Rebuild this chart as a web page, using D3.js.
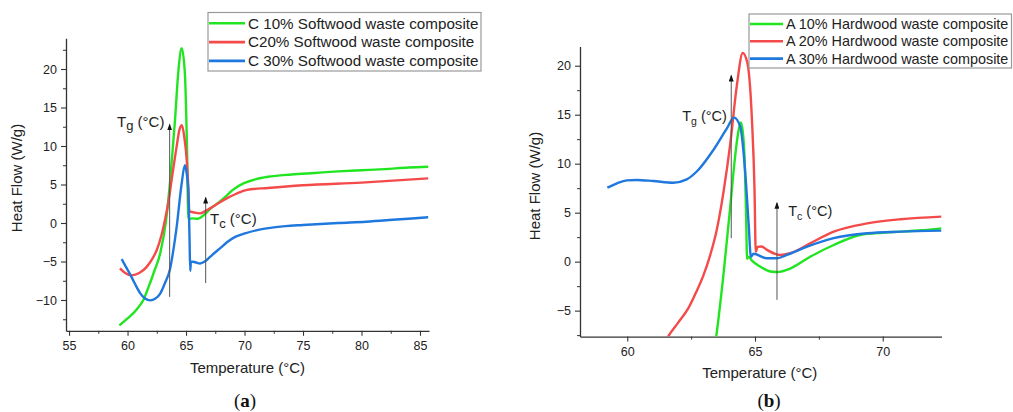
<!DOCTYPE html>
<html>
<head>
<meta charset="utf-8">
<script src="https://cdn.jsdelivr.net/npm/d3@7"></script>
<style>
  body { margin: 0; background: #fff; }
  svg { display: block; font-family: "Liberation Sans", Arial, sans-serif; }
  .axis text { fill: #222; }
  .axis path, .axis line { stroke: #333; }
</style>
</head>
<body>
<div id="chart"></div>
<script>
// (a) softwood composites: [temperature °C, heat flow W/g]
const c10 = [
  [59.3, -13.3], [60.0, -12.4], [60.8, -11.2], [61.35, -10.0], [61.8, -8.3],
  [62.3, -6.2], [62.8, -3.9], [63.3, 0.4], [63.65, 5.6], [64.05, 13.2],
  [64.35, 19.8], [64.63, 22.7], [64.9, 19.5], [65.08, 10], [65.2, 0.5],
  [65.5, 0.6], [66.0, 0.55], [66.5, 1.0], [67.05, 1.8], [67.9, 2.8],
  [68.5, 3.6], [69.0, 4.3], [70.0, 5.2], [71.0, 5.7], [72.0, 6.0],
  [74.0, 6.3], [76.0, 6.5], [78.0, 6.7], [80.0, 6.85], [82.0, 7.0],
  [84.0, 7.2], [85.7, 7.3]
];
const c20 = [
  [59.35, -5.9], [59.8, -6.5], [60.36, -6.8], [61.0, -6.5], [61.64, -5.7],
  [62.1, -4.7], [62.5, -3.5], [62.9, -1.6], [63.2, 0.4], [63.5, 2.8],
  [63.77, 5.6], [64.2, 9.95], [64.45, 12.2], [64.65, 12.7], [64.85, 11.2],
  [65.06, 8.2], [65.2, 4.5], [65.28, 1.5], [65.6, 1.4], [66.2, 1.25],
  [66.6, 1.5], [67.05, 1.9], [67.8, 2.6], [68.48, 3.2], [69.3, 3.8],
  [70.2, 4.3], [72.0, 4.55], [75.0, 4.9], [80.0, 5.25], [85.7, 5.8]
];
const c30 = [
  [59.5, -4.7], [59.9, -5.8], [60.2, -6.6], [60.6, -7.8], [61.07, -9.1],
  [61.5, -9.8], [61.95, -10.05], [62.35, -9.85], [62.78, -9.2], [63.2, -7.8],
  [63.63, -6.0], [63.95, -3.2], [64.2, -0.5], [64.6, 4.8], [64.9, 7.5],
  [65.05, 6.5], [65.2, 4.0], [65.3, -2.0], [65.36, -6.2], [65.42, -5.0],
  [65.8, -5.1], [66.2, -5.25], [66.6, -5.0], [67.05, -4.4], [67.5, -3.8],
  [67.9, -3.3], [68.5, -2.5], [69.2, -1.8], [70.04, -1.35], [71.0, -0.95],
  [71.9, -0.7], [73.5, -0.4], [75.0, -0.26], [78.0, 0.0], [80.4, 0.17],
  [83.0, 0.45], [85.7, 0.74]
];

// (b) hardwood composites
const a10 = [
  [63.4, -9.2], [63.5, -7.3], [63.77, -1.2], [64.03, 5.6], [64.22, 10.7],
  [64.32, 12.8], [64.44, 14.2], [64.52, 13.3], [64.6, 10.0], [64.65, 5.0],
  [64.69, 0.3], [64.75, 0.5], [64.88, 0.1], [65.2, -0.5], [65.6, -1.0],
  [65.86, -1.05], [66.38, -0.7], [67.16, 0.5], [68.08, 1.7], [69.12, 2.72],
  [70.0, 2.95], [70.7, 3.06], [71.5, 3.2], [72.3, 3.4]
];
const a20 = [
  [61.45, -8.4], [61.61, -7.6], [62.0, -6.2], [62.38, -4.8], [62.7, -3.1],
  [62.98, -1.4], [63.25, 0.7], [63.5, 3.2], [63.76, 7.0], [64.03, 12.0],
  [64.29, 18.0], [64.52, 21.3], [64.7, 20.3], [64.88, 14.5], [64.98, 7.5],
  [65.03, 1.0], [65.1, 1.5], [65.25, 1.55], [65.47, 1.2], [65.99, 0.68],
  [66.38, 0.86], [67.16, 1.87], [68.08, 3.06], [69.39, 3.9], [70.7, 4.33],
  [72.3, 4.6]
];
const a30 = [
  [59.22, 7.55], [59.6, 8.0], [59.98, 8.3], [60.37, 8.34], [61.02, 8.23],
  [61.8, 8.06], [62.33, 8.4], [62.72, 9.2], [63.37, 11.4], [63.9, 13.6],
  [64.18, 14.7], [64.42, 13.8], [64.62, 9.0], [64.75, 3.9], [64.84, 0.5],
  [64.94, 0.8], [65.47, 0.34], [65.86, 0.34], [66.25, 0.68], [67.04, 1.53],
  [68.08, 2.4], [69.39, 2.9], [70.7, 3.06], [72.3, 3.17]
];

const softwoodNames = ["C 10% Softwood waste composite", "C20% Softwood waste composite", "C 30% Softwood waste composite"];
const hardwoodNames = ["A 10% Hardwood waste composite", "A 20% Hardwood waste composite", "A 30% Hardwood waste composite"];

const xTicksA = [55, 60, 65, 70, 75, 80, 85];
const yTicksA = [-10, -5, 0, 5, 10, 15, 20];
const xTicksB = [60, 65, 70];
const yTicksB = [-5, 0, 5, 10, 15, 20];

// arrows: [temperature, from heat flow, to heat flow]
const arrowsA = [[63.6, -9.6, 12.8], [66.68, -7.8, 3.3]];
const arrowsB = [[64.07, 2.4, 19.0], [65.86, -3.9, 6.0]];
// labels: [temperature, heat flow, subscript]
const labelsA = [[59.1, 12.47, "g"], [67.05, -0.13, "c"]];
const labelsB = [[62.15, 14.36, "g"], [66.3, 4.66, "c"]];

const colors = ["#22e522", "#f44a4a", "#1f78de"];

const svg = d3.select("#chart").append("svg")
  .attr("width", 1013)
  .attr("height", 412);

const defs = svg.append("defs");
defs.append("marker")
  .attr("id", "arrowhead")
  .attr("viewBox", "0 0 7 5")
  .attr("refX", 6)
  .attr("refY", 2.5)
  .attr("markerWidth", 7)
  .attr("markerHeight", 5)
  .attr("markerUnits", "userSpaceOnUse")
  .attr("orient", "auto")
  .append("path")
  .attr("d", "M0,0 L7,2.5 L0,5 Z")
  .attr("fill", "#111");

function drawPanel(p) {
  const x = d3.scaleLinear(p.xDomain, p.xRange);
  const y = d3.scaleLinear(p.yDomain, p.yRange);
  const g = svg.append("g").attr("class", "panel-" + p.id);

  defs.append("clipPath").attr("id", "clip-" + p.id)
    .append("rect")
    .attr("x", p.xRange[0])
    .attr("y", p.yRange[1])
    .attr("width", p.xRange[1] - p.xRange[0])
    .attr("height", p.yRange[0] - p.yRange[1]);

  // minor ticks first so the major ones sit on top
  const xMinor = d3.range(Math.ceil(p.xDomain[0] / 2.5) * 2.5, p.xDomain[1], 2.5)
    .filter((v) => v % 5 !== 0);
  const yMinor = d3.range(Math.ceil(p.yDomain[0] / 2.5) * 2.5, p.yDomain[1], 2.5)
    .filter((v) => v % 5 !== 0);

  g.append("g").attr("class", "axis")
    .attr("transform", `translate(0,${p.yRange[0]})`)
    .call(d3.axisBottom(x).tickValues(xMinor).tickSize(3).tickFormat("").tickSizeOuter(0))
    .call((s) => s.select(".domain").remove());
  g.append("g").attr("class", "axis")
    .attr("transform", `translate(${p.xRange[0]},0)`)
    .call(d3.axisLeft(y).tickValues(yMinor).tickSize(3).tickFormat("").tickSizeOuter(0))
    .call((s) => s.select(".domain").remove());

  const xAxis = g.append("g").attr("class", "axis")
    .attr("transform", `translate(0,${p.yRange[0]})`)
    .call(d3.axisBottom(x).tickValues(p.xTicks).tickSize(5).tickPadding(p.xPad).tickSizeOuter(0));
  const yAxis = g.append("g").attr("class", "axis")
    .attr("transform", `translate(${p.xRange[0]},0)`)
    .call(d3.axisLeft(y).tickValues(p.yTicks).tickSize(5).tickPadding(4).tickSizeOuter(0));

  [xAxis, yAxis].forEach((a) => {
    a.selectAll("text").attr("font-size", 12.5).attr("font-family", "Liberation Sans, Arial, sans-serif");
    a.select(".domain").attr("stroke-width", 1.3);
    a.selectAll(".tick line").attr("stroke-width", 1.1);
  });

  const line = d3.line()
    .x((d) => x(d[0]))
    .y((d) => y(d[1]))
    .curve(d3.curveMonotoneX);

  g.append("g")
    .attr("clip-path", `url(#clip-${p.id})`)
    .selectAll("path")
    .data(p.series)
    .join("path")
    .attr("d", (d) => line(d))
    .attr("fill", "none")
    .attr("stroke", (d, i) => colors[i])
    .attr("stroke-width", 2.4)
    .attr("stroke-linejoin", "round");

  g.selectAll(".arrow")
    .data(p.arrows)
    .join("line")
    .attr("class", "arrow")
    .attr("x1", (d) => x(d[0]))
    .attr("x2", (d) => x(d[0]))
    .attr("y1", (d) => y(d[1]))
    .attr("y2", (d) => y(d[2]))
    .attr("stroke", "#555")
    .attr("stroke-width", 1)
    .attr("marker-end", "url(#arrowhead)");

  const lab = g.selectAll(".tlabel")
    .data(p.labels)
    .join("text")
    .attr("class", "tlabel")
    .attr("x", (d) => x(d[0]))
    .attr("y", (d) => y(d[1]))
    .attr("font-size", p.labelSize)
    .attr("fill", "#222");
  lab.append("tspan").text("T");
  lab.append("tspan")
    .attr("font-size", p.subSize)
    .attr("dy", p.subShift)
    .text((d) => d[2]);
  lab.append("tspan")
    .attr("dy", -p.subShift)
    .text(" (°C)");

  // legend
  const lg = g.append("g").attr("transform", `translate(${p.legend.x},${p.legend.y})`);
  lg.append("rect")
    .attr("width", p.legend.w)
    .attr("height", p.legend.h)
    .attr("fill", "#fff")
    .attr("stroke", "#999")
    .attr("stroke-width", 1.2);
  const item = lg.selectAll(".item")
    .data(p.names)
    .join("g")
    .attr("class", "item")
    .attr("transform", (d, i) => `translate(0,${p.legend.first + i * p.legend.step})`);
  item.append("line")
    .attr("x1", 1)
    .attr("x2", p.legend.lineLen)
    .attr("stroke", (d, i) => colors[i])
    .attr("stroke-width", 2.6);
  item.append("text")
    .attr("x", p.legend.lineLen + 3)
    .attr("dy", "0.35em")
    .attr("font-size", p.legend.fontSize)
    .attr("fill", "#222")
    .text((d) => d);

  // axis titles
  g.append("text")
    .attr("x", (p.xRange[0] + p.xRange[1]) / 2 + p.xTitleShift)
    .attr("y", p.xTitleY)
    .attr("text-anchor", "middle")
    .attr("font-size", 15)
    .attr("fill", "#222")
    .text("Temperature (°C)");
  g.append("text")
    .attr("transform", `translate(${p.yTitleX},${p.yTitleY}) rotate(-90)`)
    .attr("text-anchor", "middle")
    .attr("font-size", 15)
    .attr("fill", "#222")
    .text("Heat Flow (W/g)");

  // caption
  const cap = g.append("text")
    .attr("x", p.captionX)
    .attr("y", 407)
    .attr("text-anchor", "middle")
    .attr("font-family", "Liberation Serif, Times New Roman, serif")
    .attr("font-size", 19)
    .attr("fill", "#111");
  cap.append("tspan").text("(");
  cap.append("tspan").attr("font-weight", "bold").text(p.id);
  cap.append("tspan").text(")");
}

drawPanel({
  id: "a",
  xDomain: [54.74, 85.77], xRange: [66, 429],
  yDomain: [-14, 24], yRange: [330.8, 38.2],
  xTicks: xTicksA, yTicks: yTicksA, xPad: 5,
  series: [c10, c20, c30],
  names: softwoodNames,
  arrows: arrowsA, labels: labelsA,
  labelSize: 15, subSize: 13, subShift: 3.5,
  legend: { x: 208, y: 12.5, w: 273, h: 58.5, first: 10.8, step: 18.8, lineLen: 37, fontSize: 15.2 },
  xTitleShift: 0, xTitleY: 373, yTitleX: 22, yTitleY: 178,
  captionX: 245
});

drawPanel({
  id: "b",
  xDomain: [58.15, 72.3], xRange: [580, 941.5],
  yDomain: [-7.65, 21.95], yRange: [336.6, 46.6],
  xTicks: xTicksB, yTicks: yTicksB, xPad: 6,
  series: [a10, a20, a30],
  names: hardwoodNames,
  arrows: arrowsB, labels: labelsB,
  labelSize: 14.5, subSize: 10.5, subShift: 4,
  legend: { x: 749, y: 14, w: 262.5, h: 54, first: 10, step: 17.3, lineLen: 34, fontSize: 14.4 },
  xTitleShift: -1, xTitleY: 378, yTitleX: 540, yTitleY: 186,
  captionX: 769
});
</script>
</body>
</html>
